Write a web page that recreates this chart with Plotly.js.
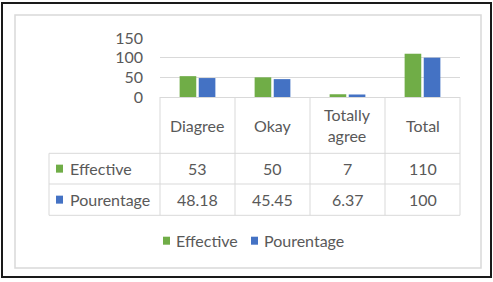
<!DOCTYPE html>
<html>
<head>
<meta charset="utf-8">
<script src="https://cdn.plot.ly/plotly-3.0.1.min.js"></script>
<style>
  html, body { margin: 0; padding: 0; background: #fff; }
  #chart { width: 493px; height: 282px; }
</style>
</head>
<body>
<div id="chart"></div>
<script>
// Survey answers with their counts and percentages
const categories = ["Diagree", "Okay", "Totally agree", "Total"];
const headerLabels = ["Diagree", "Okay", "Totally<br>agree", "Total"];
const seriesNames = ["Effective", "Pourentage"];
const effective = [53, 50, 7, 110];
const pourentage = [48.18, 45.45, 6.37, 100];
const yTicks = [0, 50, 100, 150];

const colors = ["#70AD47", "#4472C4"];
const textColor = "#595959";
const lineColor = "#D9D9D9";
const FONT = "Lato, 'Open Sans', sans-serif";
const FS = 16;

// Page and plot geometry (pixels)
const W = 493, H = 282;
const M = { l: 160, r: 33, t: 38, b: 185 };
const plotW = W - M.l - M.r, plotH = H - M.t - M.b;
const px = x => (x - M.l) / plotW;          // pixel x -> paper x
const py = y => (H - M.b - y) / plotH;       // pixel y -> paper y

// Data-table rows (pixel y of borders)
const tableTop = H - M.b, headerBottom = 153.3, row1Bottom = 184, row2Bottom = 215.3;
const rowLabelLeft = 49;

const traces = [
  { type: "bar", name: seriesNames[0], x: categories, y: effective,
    marker: { color: colors[0] }, showlegend: false, hoverinfo: "x+y" },
  { type: "bar", name: seriesNames[1], x: categories, y: pourentage,
    marker: { color: colors[1] }, showlegend: false, hoverinfo: "x+y" }
];

const shapes = [];
const annotations = [];
const line = (x0, y0, x1, y1, color, width) => shapes.push({
  type: "line", xref: "paper", yref: "paper",
  x0: px(x0), y0: py(y0), x1: px(x1), y1: py(y1),
  line: { color: color, width: width }
});
const rect = (x0, y0, x1, y1, fill, stroke, width) => shapes.push({
  type: "rect", xref: "paper", yref: "paper",
  x0: px(x0), y0: py(y0), x1: px(x1), y1: py(y1),
  fillcolor: fill, line: { color: stroke, width: width }
});

// Outer frame and chart area border
rect(2, 3, 491, 277, "rgba(0,0,0,0)", "#1a1a1a", 2);
rect(15, 15, 481, 268, "rgba(0,0,0,0)", lineColor, 1.5);

// Table grid: vertical column borders under each category
const colW = plotW / categories.length;
for (let i = 0; i <= categories.length; i++) {
  line(M.l + i * colW, tableTop, M.l + i * colW, row2Bottom, lineColor, 1);
}
line(rowLabelLeft, headerBottom, rowLabelLeft, row2Bottom, lineColor, 1);
[headerBottom, row1Bottom, row2Bottom].forEach(y =>
  line(rowLabelLeft, y, M.l + plotW, y, lineColor, 1));

const txt = (text, x, xref, y, xanchor) => annotations.push({
  text: text, x: x, xref: xref, y: py(y), yref: "paper",
  xanchor: xanchor || "center", yanchor: "middle", showarrow: false,
  font: { family: FONT, size: FS, color: textColor }
});

// Header row: category names
categories.forEach((c, i) => txt(headerLabels[i], c, "x", (tableTop + headerBottom) / 2));

// Data rows with series keys
const rows = [effective, pourentage];
const rowCenters = [(headerBottom + row1Bottom) / 2, (row1Bottom + row2Bottom) / 2];
rows.forEach((vals, r) => {
  const yc = rowCenters[r];
  rect(56, yc - 4, 63, yc + 4, colors[r], colors[r], 0);
  txt(seriesNames[r], px(68), "paper", yc, "left");
  vals.forEach((v, i) => txt(String(v), categories[i], "x", yc));
});

// Legend along the bottom
const legendY = 240.7;
const legendX = [163, 251];
seriesNames.forEach((n, r) => {
  rect(legendX[r], legendY - 4, legendX[r] + 7, legendY + 4, colors[r], colors[r], 0);
  txt(n, px(legendX[r] + 11), "paper", legendY, "left");
});

const layout = {
  width: W, height: H,
  margin: M,
  paper_bgcolor: "#fff", plot_bgcolor: "#fff",
  font: { family: FONT, size: FS, color: textColor },
  barmode: "group", bargap: 0.49, bargroupgap: 0.13,
  showlegend: false,
  xaxis: {
    type: "category", range: [-0.5, categories.length - 0.5],
    showticklabels: false, showgrid: false, zeroline: false, showline: false, ticks: ""
  },
  yaxis: {
    range: [0, 150], tickvals: yTicks, ticktext: yTicks.map(String),
    showgrid: true, gridcolor: lineColor, gridwidth: 1,
    zeroline: true, zerolinecolor: lineColor, zerolinewidth: 1,
    showline: false, ticks: "", ticklabelstandoff: 16,
    tickfont: { family: FONT, size: FS, color: textColor }
  },
  shapes: shapes,
  annotations: annotations
};

Plotly.newPlot("chart", traces, layout, { displayModeBar: false, staticPlot: true });
</script>
</body>
</html>
